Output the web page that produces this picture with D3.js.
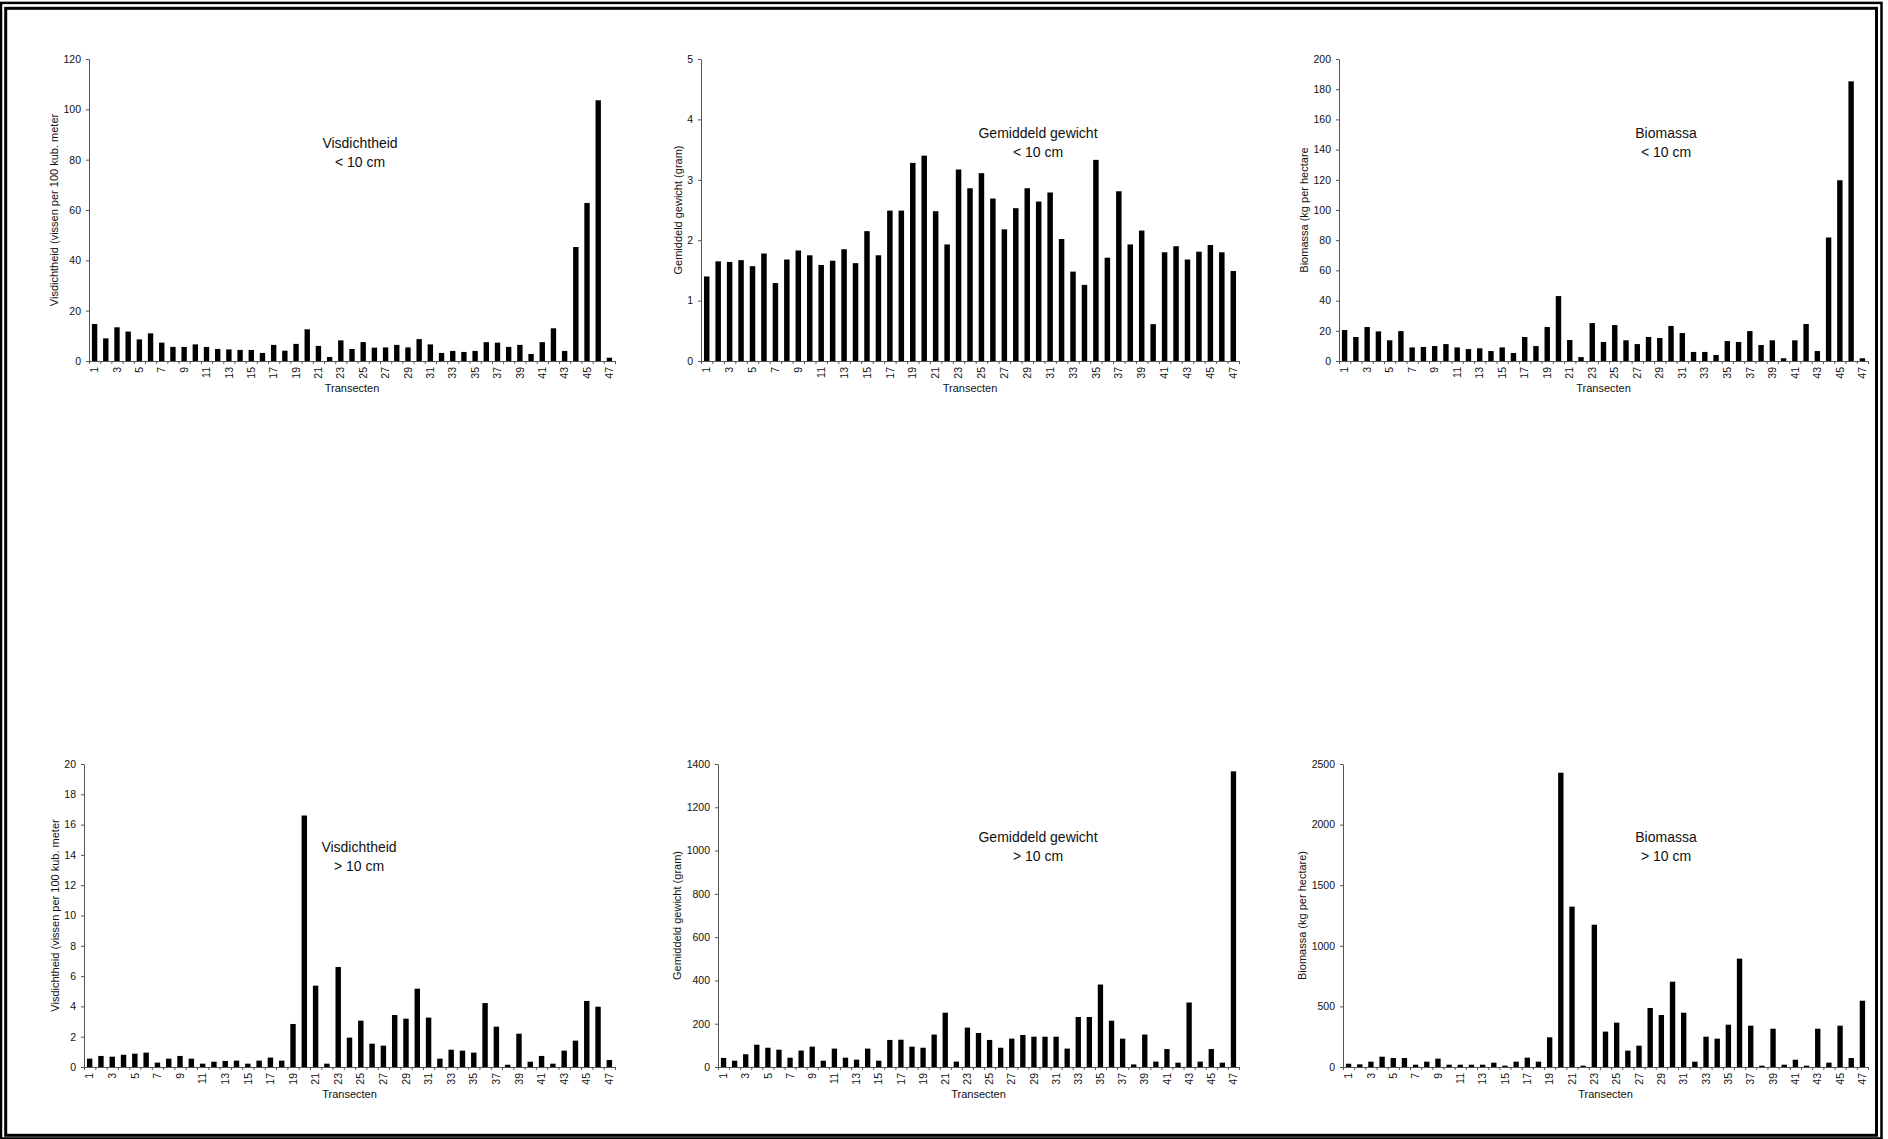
<!DOCTYPE html>
<html>
<head>
<meta charset="utf-8">
<script src="https://cdn.jsdelivr.net/npm/d3@7"></script>
<style>
  body { margin: 0; background: #fff; }
  svg { display: block; font-family: "Liberation Sans", Arial, sans-serif; }
  .axis path, .axis line { stroke: #555; }
  .axis text { fill: #111; }
</style>
</head>
<body>
<svg id="chart" width="1888" height="1139"></svg>
<script>
// transect numbers on the x axis
const transects = d3.range(1, 48)
const transectLabels = transects.filter(d => d % 2 === 1)

// fish density < 10 cm (vissen per 100 kub. meter)
const densSmall = [14.7, 9.0, 13.4, 11.7, 8.6, 11.0, 7.3, 5.6, 5.6, 6.6, 5.6, 4.8, 4.6, 4.4, 4.4, 3.2,
  6.4, 4.1, 6.8, 12.6, 6.0, 1.6, 8.2, 4.8, 7.5, 5.3, 5.4, 6.4, 5.4, 8.7, 6.6, 3.2, 4.0, 3.6, 4.0, 7.5,
  7.3, 5.6, 6.4, 2.8, 7.5, 13.0, 4.0, 45.3, 62.8, 103.6, 1.3]

// mean weight < 10 cm (gram)
const weightSmall = [1.40, 1.65, 1.64, 1.67, 1.57, 1.78, 1.29, 1.68, 1.83, 1.75, 1.59, 1.66, 1.85, 1.62,
  2.15, 1.75, 2.49, 2.49, 3.28, 3.40, 2.48, 1.93, 3.17, 2.86, 3.11, 2.69, 2.18, 2.53, 2.86, 2.64, 2.79,
  2.02, 1.48, 1.26, 3.33, 1.71, 2.81, 1.93, 2.16, 0.61, 1.80, 1.90, 1.68, 1.81, 1.92, 1.80, 1.49]

// biomass < 10 cm (kg per hectare)
const bioSmall = [20.5, 15.9, 22.5, 19.6, 13.7, 19.8, 9.0, 9.3, 9.9, 11.2, 9.0, 7.9, 8.4, 6.6, 9.0, 5.3,
  15.9, 9.9, 22.5, 43.0, 13.9, 2.6, 25.1, 12.6, 23.8, 13.7, 11.2, 15.9, 15.2, 23.2, 18.5, 6.0, 6.0, 4.0,
  13.2, 12.6, 19.8, 10.6, 13.7, 1.8, 13.7, 24.5, 6.6, 81.8, 119.7, 185.2, 1.8]

// fish density > 10 cm
const densLarge = [0.55, 0.73, 0.68, 0.81, 0.88, 0.95, 0.29, 0.55, 0.73, 0.55, 0.22, 0.35, 0.40, 0.42,
  0.22, 0.42, 0.62, 0.42, 2.84, 16.6, 5.37, 0.22, 6.6, 1.94, 3.06, 1.54, 1.41, 3.43, 3.19, 5.17, 3.26,
  0.55, 1.14, 1.08, 0.95, 4.22, 2.66, 0.15, 2.2, 0.35, 0.73, 0.22, 1.08, 1.74, 4.36, 3.98, 0.46]

// mean weight > 10 cm
const weightLarge = [42, 29, 59, 103, 89, 80, 43, 76, 94, 29, 85, 43, 34, 85, 29, 125, 126, 94, 89, 150,
  251, 25, 182, 157, 125, 89, 131, 148, 140, 140, 140, 85, 231, 231, 381, 214, 131, 12, 150, 25, 83,
  20, 298, 25, 83, 20, 1366]

// biomass > 10 cm
const bioLarge = [27, 22, 44, 85, 74, 74, 19, 44, 69, 19, 19, 19, 19, 36, 11, 44, 77, 44, 245, 2428,
  1323, 11, 1174, 292, 366, 135, 176, 487, 429, 704, 448, 44, 250, 234, 349, 894, 341, 11, 316, 19, 60,
  11, 316, 36, 341, 74, 547]

// y tick values
const ticksDensSmall = [0, 20, 40, 60, 80, 100, 120]
const ticksWeightSmall = [0, 1, 2, 3, 4, 5]
const ticksBioSmall = [0, 20, 40, 60, 80, 100, 120, 140, 160, 180, 200]
const ticksDensLarge = [0, 2, 4, 6, 8, 10, 12, 14, 16, 18, 20]
const ticksWeightLarge = [0, 200, 400, 600, 800, 1000, 1200, 1400]
const ticksBioLarge = [0, 500, 1000, 1500, 2000, 2500]

const xTitle = "Transecten"

const panels = [
  { values: densSmall, ticks: ticksDensSmall, yTitle: "Visdichtheid (vissen per 100 kub. meter",
    title: ["Visdichtheid", "< 10 cm"], x0: 89, x1: 615, yTop: 59, yZero: 361, tx: 360, ty: 143 },
  { values: weightSmall, ticks: ticksWeightSmall, yTitle: "Gemiddeld gewicht (gram)",
    title: ["Gemiddeld gewicht", "< 10 cm"], x0: 701, x1: 1239, yTop: 59, yZero: 361, tx: 1038, ty: 133 },
  { values: bioSmall, ticks: ticksBioSmall, yTitle: "Biomassa (kg per hectare",
    title: ["Biomassa", "< 10 cm"], x0: 1339, x1: 1868, yTop: 59, yZero: 361, tx: 1666, ty: 133 },
  { values: densLarge, ticks: ticksDensLarge, yTitle: "Visdichtheid (vissen per 100 kub. meter",
    title: ["Visdichtheid", "> 10 cm"], x0: 84, x1: 615, yTop: 764, yZero: 1067, tx: 359, ty: 847 },
  { values: weightLarge, ticks: ticksWeightLarge, yTitle: "Gemiddeld gewicht (gram)",
    title: ["Gemiddeld gewicht", "> 10 cm"], x0: 718, x1: 1239, yTop: 764, yZero: 1067, tx: 1038, ty: 837 },
  { values: bioLarge, ticks: ticksBioLarge, yTitle: "Biomassa (kg per hectare)",
    title: ["Biomassa", "> 10 cm"], x0: 1343, x1: 1868, yTop: 764, yZero: 1067, tx: 1666, ty: 837 },
]

const svg = d3.select("#chart")

svg.append("rect").attr("width", 1888).attr("height", 1139).attr("fill", "#fff")

/**
 * Double frame round the whole page
 */
svg.append("rect")
  .attr("x", 1).attr("y", 2.9).attr("width", 1880.5).attr("height", 1135.6)
  .attr("fill", "none").attr("stroke", "#000").attr("stroke-width", 2.5)
svg.append("rect")
  .attr("x", 5.7).attr("y", 8.3).attr("width", 1870.8).attr("height", 1127)
  .attr("fill", "none").attr("stroke", "#000").attr("stroke-width", 3)

function drawPanel(p) {
  const g = svg.append("g")

  const xScale = d3.scaleBand()
    .domain(transects)
    .range([p.x0, p.x1])
    .paddingInner(0.52)
    .paddingOuter(0.26)

  const yScale = d3.scaleLinear()
    .domain([0, d3.max(p.ticks)])
    .range([p.yZero, p.yTop])

  // bars
  g.selectAll(".bar")
    .data(p.values)
    .enter()
    .append("rect")
    .attr("class", "bar")
    .attr("x", (d, i) => xScale(transects[i]))
    .attr("width", xScale.bandwidth())
    .attr("y", d => yScale(d))
    .attr("height", d => p.yZero - yScale(d))
    .attr("fill", "#000")

  // tick marks between categories
  const edge = d3.scaleLinear().domain([0, transects.length]).range([p.x0, p.x1])
  g.append("g")
    .attr("class", "axis")
    .attr("transform", "translate(0," + p.yZero + ")")
    .call(d3.axisBottom(edge).tickValues(d3.range(0, transects.length + 1)).tickFormat("").tickSize(3).tickSizeOuter(0))

  // category labels, rotated
  const gx = g.append("g")
    .attr("class", "axis")
    .attr("transform", "translate(0," + p.yZero + ")")
    .call(d3.axisBottom(xScale).tickValues(transectLabels).tickSize(0).tickPadding(0))
  gx.select(".domain").remove()
  gx.selectAll("text")
    .attr("font-size", "10.5px")
    .attr("text-anchor", "end")
    .attr("transform", "translate(0,6) rotate(-90)")
    .attr("x", 0).attr("y", 0).attr("dy", "0.35em")

  // y axis
  const gy = g.append("g")
    .attr("class", "axis")
    .attr("transform", "translate(" + p.x0 + ",0)")
    .call(d3.axisLeft(yScale).tickValues(p.ticks).tickFormat(d => String(d))
      .tickSize(3).tickSizeOuter(0).tickPadding(5))
  gy.selectAll("text").attr("font-size", "10.5px")

  const tickWidth = d3.max(gy.selectAll("text").nodes(), n => n.getBBox().width)

  // y title
  g.append("text")
    .attr("transform", "translate(" + (p.x0 - 8 - tickWidth - 9) + "," + ((p.yTop + p.yZero) / 2) + ") rotate(-90)")
    .attr("text-anchor", "middle")
    .attr("dy", "0.35em")
    .attr("font-size", "11px")
    .attr("fill", "#111")
    .text(p.yTitle)

  // x title
  g.append("text")
    .attr("x", (p.x0 + p.x1) / 2)
    .attr("y", p.yZero + 27)
    .attr("text-anchor", "middle")
    .attr("dy", "0.35em")
    .attr("font-size", "11px")
    .attr("fill", "#111")
    .text(xTitle)

  // panel title, two lines
  g.selectAll(".ptitle")
    .data(p.title)
    .enter()
    .append("text")
    .attr("class", "ptitle")
    .attr("x", p.tx)
    .attr("y", (d, i) => p.ty + i * 19)
    .attr("dy", "0.35em")
    .attr("text-anchor", "middle")
    .attr("font-size", "14px")
    .attr("fill", "#111")
    .text(d => d)
}

panels.forEach(drawPanel)
</script>
</body>
</html>
